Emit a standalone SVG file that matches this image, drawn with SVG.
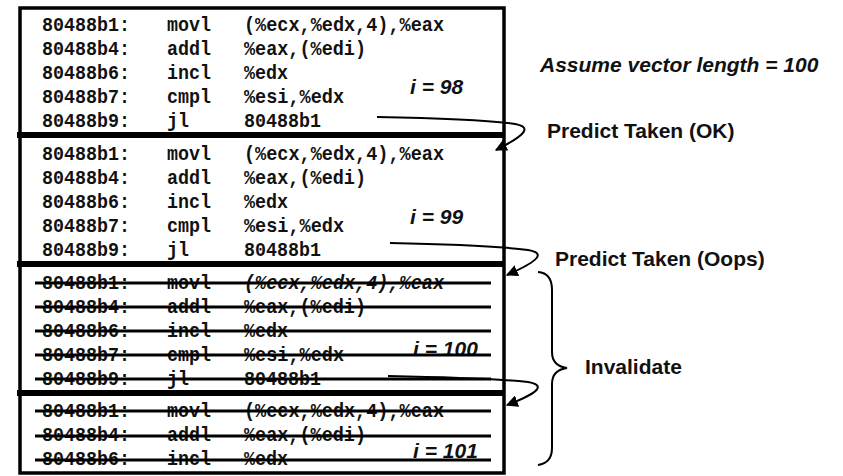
<svg xmlns="http://www.w3.org/2000/svg" width="843" height="476" viewBox="0 0 843 476">
  <style>
    .code { font-family: "Liberation Mono", "DejaVu Sans Mono", monospace; font-weight: bold; font-size: 20.5px; fill: #111; }
    .ital { font-style: italic; }
    .iter { font-family: "Liberation Sans", Arial, sans-serif; font-weight: bold; font-style: italic; font-size: 21px; fill: #111; }
    .label { font-family: "Liberation Sans", Arial, sans-serif; font-weight: bold; font-size: 21px; fill: #111; }
    .frame { fill: none; stroke: #000; stroke-width: 3.5; }
    .sep { stroke: #000; stroke-width: 6; }
    .strike { stroke: #000; stroke-width: 3; }
    .conn { fill: none; stroke: #000; stroke-width: 2; }
    .brace { fill: none; stroke: #000; stroke-width: 2; }
  </style>
  <defs>
    <marker id="head" viewBox="0 0 10 10" refX="9" refY="5" markerWidth="6" markerHeight="6" orient="auto" markerUnits="strokeWidth">
      <path d="M0,0 L10,5 L0,10 Z" fill="#000"/>
    </marker>
  </defs>

  <rect x="0" y="0" width="843" height="476" fill="#fff"/>

  <!-- iteration i = 98 -->
  <g id="iter98">
    <text class="code" x="42" y="31" textLength="88" lengthAdjust="spacingAndGlyphs">80488b1:</text><text class="code" x="167" y="31" textLength="44" lengthAdjust="spacingAndGlyphs">movl</text><text class="code" x="244" y="31" textLength="200" lengthAdjust="spacingAndGlyphs">(%ecx,%edx,4),%eax</text>
    <text class="code" x="42" y="55" textLength="88" lengthAdjust="spacingAndGlyphs">80488b4:</text><text class="code" x="167" y="55" textLength="44" lengthAdjust="spacingAndGlyphs">addl</text><text class="code" x="244" y="55" textLength="122" lengthAdjust="spacingAndGlyphs">%eax,(%edi)</text>
    <text class="code" x="42" y="79" textLength="88" lengthAdjust="spacingAndGlyphs">80488b6:</text><text class="code" x="167" y="79" textLength="44" lengthAdjust="spacingAndGlyphs">incl</text><text class="code" x="244" y="79" textLength="44" lengthAdjust="spacingAndGlyphs">%edx</text>
    <text class="code" x="42" y="103" textLength="88" lengthAdjust="spacingAndGlyphs">80488b7:</text><text class="code" x="167" y="103" textLength="44" lengthAdjust="spacingAndGlyphs">cmpl</text><text class="code" x="244" y="103" textLength="100" lengthAdjust="spacingAndGlyphs">%esi,%edx</text>
    <text class="code" x="42" y="127" textLength="88" lengthAdjust="spacingAndGlyphs">80488b9:</text><text class="code" x="167" y="127" textLength="22" lengthAdjust="spacingAndGlyphs">jl</text><text class="code" x="244" y="127" textLength="77" lengthAdjust="spacingAndGlyphs">80488b1</text>
    <text class="iter" x="410" y="94">i = 98</text>
  </g>

  <!-- iteration i = 99 -->
  <g id="iter99">
    <text class="code" x="42" y="160" textLength="88" lengthAdjust="spacingAndGlyphs">80488b1:</text><text class="code" x="167" y="160" textLength="44" lengthAdjust="spacingAndGlyphs">movl</text><text class="code" x="244" y="160" textLength="200" lengthAdjust="spacingAndGlyphs">(%ecx,%edx,4),%eax</text>
    <text class="code" x="42" y="184" textLength="88" lengthAdjust="spacingAndGlyphs">80488b4:</text><text class="code" x="167" y="184" textLength="44" lengthAdjust="spacingAndGlyphs">addl</text><text class="code" x="244" y="184" textLength="122" lengthAdjust="spacingAndGlyphs">%eax,(%edi)</text>
    <text class="code" x="42" y="208" textLength="88" lengthAdjust="spacingAndGlyphs">80488b6:</text><text class="code" x="167" y="208" textLength="44" lengthAdjust="spacingAndGlyphs">incl</text><text class="code" x="244" y="208" textLength="44" lengthAdjust="spacingAndGlyphs">%edx</text>
    <text class="code" x="42" y="232" textLength="88" lengthAdjust="spacingAndGlyphs">80488b7:</text><text class="code" x="167" y="232" textLength="44" lengthAdjust="spacingAndGlyphs">cmpl</text><text class="code" x="244" y="232" textLength="100" lengthAdjust="spacingAndGlyphs">%esi,%edx</text>
    <text class="code" x="42" y="256" textLength="88" lengthAdjust="spacingAndGlyphs">80488b9:</text><text class="code" x="167" y="256" textLength="22" lengthAdjust="spacingAndGlyphs">jl</text><text class="code" x="244" y="256" textLength="77" lengthAdjust="spacingAndGlyphs">80488b1</text>
    <text class="iter" x="410" y="224">i = 99</text>
  </g>

  <!-- iteration i = 100 (squashed) -->
  <g id="iter100">
    <text class="code" x="42" y="289" textLength="88" lengthAdjust="spacingAndGlyphs">80488b1:</text><text class="code" x="167" y="289" textLength="44" lengthAdjust="spacingAndGlyphs">movl</text><text class="code ital" x="244" y="289" textLength="200" lengthAdjust="spacingAndGlyphs">(%ecx,%edx,4),%eax</text>
    <text class="code" x="42" y="313" textLength="88" lengthAdjust="spacingAndGlyphs">80488b4:</text><text class="code" x="167" y="313" textLength="44" lengthAdjust="spacingAndGlyphs">addl</text><text class="code" x="244" y="313" textLength="122" lengthAdjust="spacingAndGlyphs">%eax,(%edi)</text>
    <text class="code" x="42" y="337" textLength="88" lengthAdjust="spacingAndGlyphs">80488b6:</text><text class="code" x="167" y="337" textLength="44" lengthAdjust="spacingAndGlyphs">incl</text><text class="code" x="244" y="337" textLength="44" lengthAdjust="spacingAndGlyphs">%edx</text>
    <text class="code" x="42" y="361" textLength="88" lengthAdjust="spacingAndGlyphs">80488b7:</text><text class="code" x="167" y="361" textLength="44" lengthAdjust="spacingAndGlyphs">cmpl</text><text class="code" x="244" y="361" textLength="100" lengthAdjust="spacingAndGlyphs">%esi,%edx</text>
    <text class="code" x="42" y="385" textLength="88" lengthAdjust="spacingAndGlyphs">80488b9:</text><text class="code" x="167" y="385" textLength="22" lengthAdjust="spacingAndGlyphs">jl</text><text class="code" x="244" y="385" textLength="77" lengthAdjust="spacingAndGlyphs">80488b1</text>
    <text class="iter" x="413" y="356">i = 100</text>
    <line class="strike" x1="35" y1="283" x2="491" y2="283"/>
    <line class="strike" x1="35" y1="307" x2="491" y2="307"/>
    <line class="strike" x1="35" y1="331" x2="491" y2="331"/>
    <line class="strike" x1="35" y1="355" x2="491" y2="355"/>
    <line class="strike" x1="35" y1="379" x2="491" y2="379"/>
  </g>

  <!-- iteration i = 101 (squashed) -->
  <g id="iter101">
    <text class="code" x="42" y="417" textLength="88" lengthAdjust="spacingAndGlyphs">80488b1:</text><text class="code" x="167" y="417" textLength="44" lengthAdjust="spacingAndGlyphs">movl</text><text class="code" x="244" y="417" textLength="200" lengthAdjust="spacingAndGlyphs">(%ecx,%edx,4),%eax</text>
    <text class="code" x="42" y="441" textLength="88" lengthAdjust="spacingAndGlyphs">80488b4:</text><text class="code" x="167" y="441" textLength="44" lengthAdjust="spacingAndGlyphs">addl</text><text class="code" x="244" y="441" textLength="122" lengthAdjust="spacingAndGlyphs">%eax,(%edi)</text>
    <text class="code" x="42" y="465" textLength="88" lengthAdjust="spacingAndGlyphs">80488b6:</text><text class="code" x="167" y="465" textLength="44" lengthAdjust="spacingAndGlyphs">incl</text><text class="code" x="244" y="465" textLength="44" lengthAdjust="spacingAndGlyphs">%edx</text>
    <text class="iter" x="413" y="458">i = 101</text>
    <line class="strike" x1="35" y1="411" x2="491" y2="411"/>
    <line class="strike" x1="35" y1="436" x2="491" y2="436"/>
    <line class="strike" x1="35" y1="460" x2="491" y2="460"/>
  </g>

  <!-- frame and iteration dividers -->
  <g id="frame">
    <rect class="frame" x="20" y="8" width="484" height="465"/>
    <line class="sep" x1="17" y1="135" x2="505" y2="135"/>
    <line class="sep" x1="17" y1="264" x2="505" y2="264"/>
    <line class="sep" x1="17" y1="393" x2="505" y2="393"/>
  </g>

  <!-- branch prediction connectors -->
  <g id="connectors">
    <path class="conn" marker-end="url(#head)" d="M377,117 Q480,119 515,124 C531,127 528,134 496,150"/>
    <path class="conn" marker-end="url(#head)" d="M390,243 Q490,245 528,250 C545,253 541,260 507,275"/>
    <path class="conn" marker-end="url(#head)" d="M388,376 Q490,378 528,382 C545,385 541,392 507,405"/>
  </g>

  <g id="brace">
    <path class="brace" d="M538,272 Q552,273 552,290 L552,352 Q552,366 567,368 Q552,370 552,384 L552,448 Q552,463 538,465"/>
  </g>

  <g id="notes">
    <text class="iter" x="540" y="72">Assume vector length = 100</text>
    <text class="label" x="547" y="138">Predict Taken (OK)</text>
    <text class="label" x="555" y="266">Predict Taken (Oops)</text>
    <text class="label" x="585" y="374">Invalidate</text>
  </g>
</svg>
